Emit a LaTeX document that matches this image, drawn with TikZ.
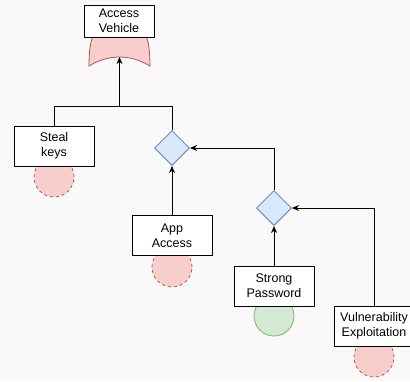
\documentclass[tikz,border=0pt]{standalone}
\usepackage{fontspec}
\setmainfont{Liberation Sans}
\usetikzlibrary{shapes.geometric,arrows.meta}
\definecolor{bgc}{HTML}{F9F9F9}
\definecolor{redfill}{HTML}{F8CECC}
\definecolor{redline}{HTML}{B85450}
\definecolor{bluefill}{HTML}{DAE8FC}
\definecolor{blueline}{HTML}{6C8EBF}
\definecolor{greenfill}{HTML}{D5E8D4}
\definecolor{greenline}{HTML}{82B366}
\tikzset{
  leaf/.style={draw=black, fill=white, line width=1pt, minimum width=80pt, minimum height=40pt,
    inner sep=1pt, align=center, font=\fontsize{12.5pt}{15pt}\selectfont},
  topbox/.style={leaf, minimum width=70pt, minimum height=32pt},
  andgate/.style={diamond, draw=blueline, fill=bluefill, line width=1pt, minimum width=35pt,
    minimum height=35pt, inner sep=0pt, aspect=1},
  risk/.style={circle, draw=redline, fill=redfill, dashed, line width=0.8pt, minimum size=40pt, inner sep=0pt},
  safe/.style={circle, draw=greenline, fill=greenfill, line width=0.8pt, minimum size=40pt, inner sep=0pt},
  link/.style={draw=black, line width=1pt},
  arrowlink/.style={link, -{Stealth[length=7pt,width=6pt]}},
}
\begin{document}
\begin{tikzpicture}[x=1pt,y=-1pt]
  \fill[bgc] (0,0) rectangle (410,381);
  \useasboundingbox (0,0) rectangle (410,381);

  % OR gate of the root event
  \path[fill=redfill, draw=redline, line width=0.8pt]
    (89,66) .. controls (89,40) and (93,20) .. (119.5,10)
            .. controls (146,20) and (150,40) .. (150,66)
            .. controls (130,54) and (109,54) .. (89,66) -- cycle;
  \coordinate (gatein) at (119.5,57);

  % status circles behind the leaf events
  \node[risk] (c1) at (54,177) {};
  \node[risk] (c2) at (172,267) {};
  \node[safe] (c3) at (274,316) {};
  \node[risk] (c4) at (374,357) {};

  % events
  \node[topbox] (root) at (119,21) {Access\\Vehicle};
  \node[leaf] (steal) at (54,146) {Steal\\keys};
  \node[leaf] (app) at (172,235.5) {App\\Access};
  \node[leaf] (pwd) at (274,286) {Strong\\Password};
  \node[leaf] (vuln) at (374,326) {Vulnerability\\Exploitation};

  % AND gates
  \node[andgate] (d1) at (172,148) {};
  \node[andgate] (d2) at (274,208) {};

  % connectors
  \coordinate (j1) at (119.5,106);
  \draw[link] (steal.north) |- (j1);
  \draw[link] (d1.north) |- (j1);
  \draw[arrowlink] (j1) -- (gatein);
  \draw[arrowlink] (app.north) -- (d1.south);
  \draw[arrowlink] (d2.north) |- (d1.east);
  \draw[arrowlink] (pwd.north) -- (d2.south);
  \draw[arrowlink] (vuln.north) |- (d2.east);
\end{tikzpicture}
\end{document}
